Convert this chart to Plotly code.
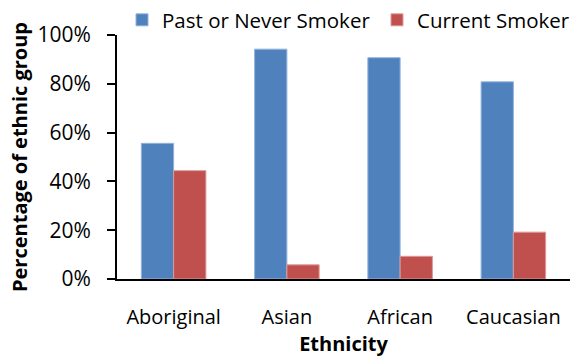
import plotly.graph_objects as go

categories = ["Aboriginal", "Asian", "African", "Caucasian"]
past_or_never = [55.6, 94.2, 90.7, 80.8]
current = [44.4, 5.8, 9.3, 19.2]
y_ticks = [0, 20, 40, 60, 80, 100]
y_tick_labels = ["0%", "20%", "40%", "60%", "80%", "100%"]

FONT = "Open Sans"
W, H = 574, 362

fig = go.Figure()
fig.add_trace(go.Bar(
    x=categories, y=past_or_never, name="Past or Never Smoker",
    marker=dict(color="#4F81BD", line=dict(color="#93B3DA", width=1)),
    legend="legend", showlegend=True,
))
fig.add_trace(go.Bar(
    x=categories, y=current, name="Current Smoker",
    marker=dict(color="#C0504D", line=dict(color="#DC9A98", width=1)),
    legend="legend2", showlegend=True,
))

legend_common = dict(
    orientation="h", xref="container", yref="container",
    yanchor="top", y=1.0, xanchor="left",
    font=dict(family=FONT, size=20.5, color="#000000"),
    bgcolor="rgba(0,0,0,0)", borderwidth=0,
)

fig.update_layout(
    width=W, height=H, showlegend=True,
    margin=dict(l=117, r=4, t=35, b=83, autoexpand=False),
    paper_bgcolor="white", plot_bgcolor="white",
    font=dict(family=FONT, size=20, color="#000000"),
    barmode="group", bargap=0.43, bargroupgap=0,
    legend=dict(**legend_common, x=(162 - 40) / W),
    legend2=dict(**legend_common, x=(417 - 40) / W),
    xaxis=dict(
        showline=True, linecolor="black", linewidth=2,
        ticks="", showgrid=False, ticklabelstandoff=19,
        tickfont=dict(family=FONT, size=20),
        title=dict(text="<b>Ethnicity</b>", font=dict(family=FONT, size=20), standoff=4),
    ),
    yaxis=dict(
        range=[0, 100], tickvals=y_ticks, ticktext=y_tick_labels,
        showline=True, linecolor="black", linewidth=2,
        ticks="outside", ticklen=8, tickwidth=2, tickcolor="black",
        showgrid=False, zeroline=False, ticklabelstandoff=12,
        tickfont=dict(family=FONT, size=21),
        title=dict(text="<b>Percentage of ethnic group</b>", font=dict(family=FONT, size=20), standoff=4),
    ),
)

fig.write_html("out.html")
